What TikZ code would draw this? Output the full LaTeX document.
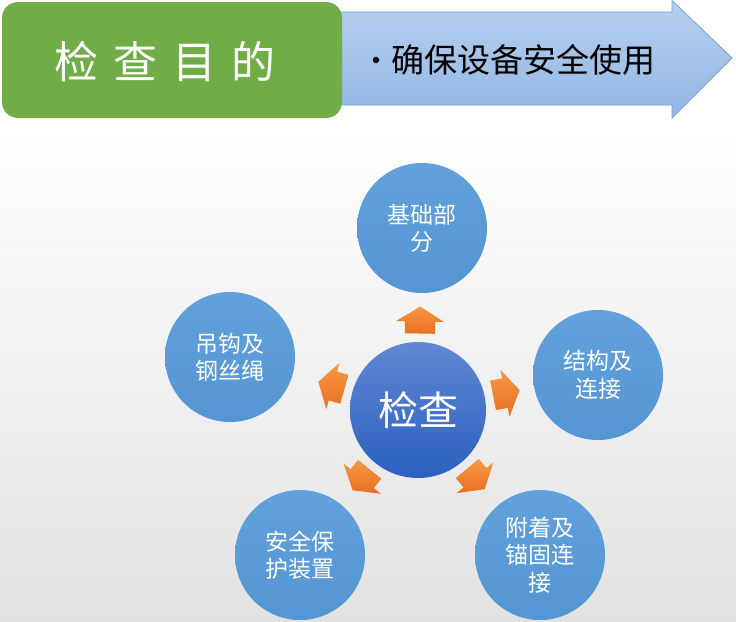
\documentclass[tikz,border=0pt]{standalone}
\usepackage{fontspec}
\setmainfont{Noto Sans CJK SC}
\usetikzlibrary{calc}
\definecolor{grn}{RGB}{112,173,71}
\definecolor{arrtop}{RGB}{183,207,238}
\definecolor{arrbot}{RGB}{146,183,229}
\definecolor{arredge}{RGB}{115,160,214}
\definecolor{outtop}{RGB}{98,161,219}
\definecolor{outbot}{RGB}{84,149,211}
\definecolor{ctop}{RGB}{96,136,212}
\definecolor{cbot}{RGB}{42,96,190}
\definecolor{otop}{RGB}{247,152,70}
\definecolor{obot}{RGB}{232,112,32}
\tikzset{
  outer/.style={circle, minimum size=130pt, inner sep=0pt, top color=outtop, bottom color=outbot,
    text=white, align=center, font=\fontsize{23}{27.5}\selectfont},
  core/.style={circle, minimum size=136pt, inner sep=0pt, top color=ctop, bottom color=cbot,
    text=white, font=\fontsize{40}{44}\selectfont},
  orangearrow/.style={top color=otop, bottom color=obot}
}
\newcommand{\blockarrow}[2]{%
  \begin{scope}[shift={(#1)}, rotate=#2]
    \shade[orangearrow] (-13.5,-15) -- (-1.5,-15) -- (-1.5,-24) -- (13.5,0) -- (-1.5,24) -- (-1.5,15) -- (-13.5,15) -- cycle;
  \end{scope}}
\begin{document}
\begin{tikzpicture}[x=1pt,y=-1pt]
\useasboundingbox (0,0) rectangle (736,621);
\fill[white] (0,0) rectangle (736,125);
\shade[top color=white, bottom color={rgb,255:red,226;green,226;blue,226}] (0,125) rectangle (736,621);
% header arrow
\shade[top color=arrtop, bottom color=arrbot, draw=arredge, line width=0.8pt]
  (330,12) -- (672,12) -- (672,0.5) -- (732,58) -- (672,118) -- (672,105) -- (330,105) -- cycle;
\node[circle, fill=black, minimum size=6.5pt, inner sep=0pt] (bullet) at (376,60) {};
\node[anchor=west, font=\fontsize{33}{36}\selectfont] (purpose) at (388,60) {确保设备安全使用};
% green title box
\node[draw=none, fill=grn, rounded corners=16pt, minimum width=340pt, minimum height=116pt, inner sep=0pt] (title) at (172,60) {};
\node[text=white, font=\fontsize{44}{48}\selectfont] (titletext) at (165,62) {检\hspace{15pt}查\hspace{15pt}目\hspace{15pt}的};
% circles
\node[core] (c) at (418,410) {检查};
\node[outer] (b1) at (422,228) {基础部\\分};
\node[outer] (b2) at (598,375) {结构及\\连接};
\node[outer] (b3) at (540,555) {附着及\\锚固连\\接};
\node[outer] (b4) at (300,555) {安全保\\护装置};
\node[outer] (b5) at (230,357) {吊钩及\\钢丝绳};
% orange arrows
\coordinate (a1) at ($(c)!90pt!(b1)$);
\coordinate (a2) at ($(c)!90pt!(b2)$);
\coordinate (a3) at ($(c)!90pt!(b3)$);
\coordinate (a4) at ($(c)!90pt!(b4)$);
\coordinate (a5) at ($(c)!90pt!(b5)$);
\blockarrow{a1}{89}
\blockarrow{a2}{11}
\blockarrow{a3}{-50}
\blockarrow{a4}{-129}
\blockarrow{a5}{164}
\end{tikzpicture}
\end{document}
